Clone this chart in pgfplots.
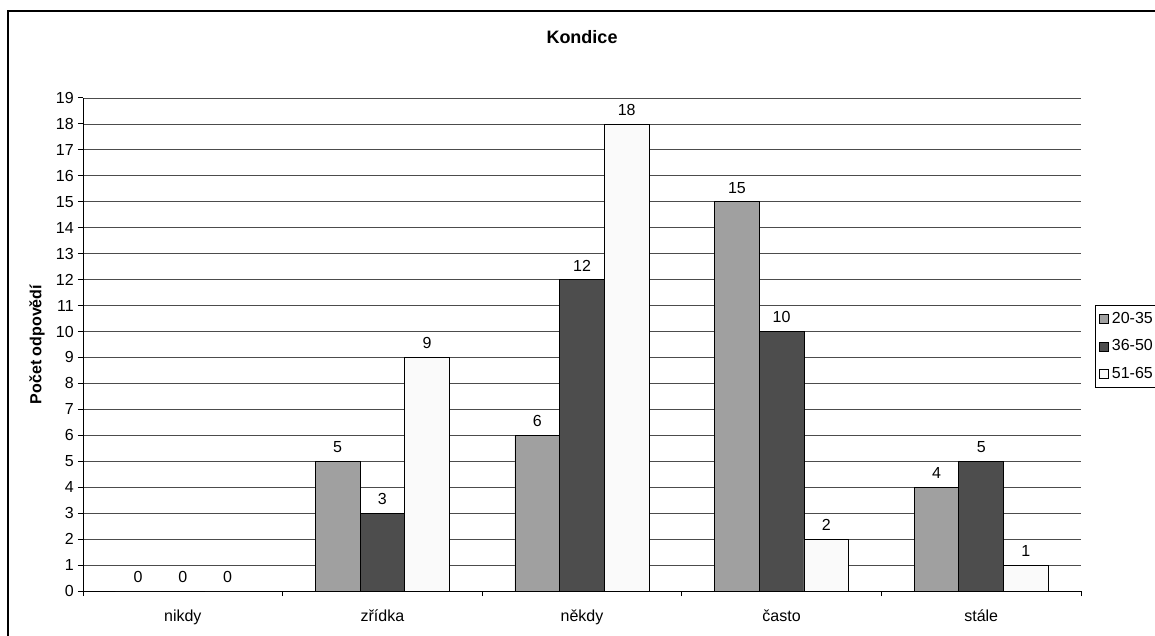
\documentclass[border=0pt]{standalone}
\usepackage{fontspec}
\setmainfont{Liberation Sans}
\usepackage{pgfplots}
\pgfplotsset{compat=1.18}
\definecolor{cA}{HTML}{A0A0A0}
\definecolor{cB}{HTML}{4D4D4D}
\definecolor{cC}{HTML}{FAFAFA}
\begin{document}
\fontsize{12}{14}\selectfont
\begin{tikzpicture}
\useasboundingbox (0pt,0pt) rectangle (866.25pt,476.25pt);
\draw[line width=1pt] (6pt,-10pt) rectangle (880pt,468pt);
\begin{axis}[
  at={(62.25pt,33pt)}, anchor=south west,
  scale only axis, width=748.5pt, height=369.75pt,
  xmin=-0.5, xmax=4.5, ymin=0, ymax=19,
  ybar=0pt, bar width=0.224,
  /pgf/number format/assume math mode=true,
  axis x line*=bottom, axis y line*=left,
  axis line style={-, black, line width=0.75pt},
  tick align=outside,
  xtick={0,1,2,3,4},
  xticklabels={nikdy,zřídka,někdy,často,stále},
  major x tick style={draw=none},
  minor xtick={-0.5,0.5,1.5,2.5,3.5,4.5},
  minor x tick style={black, line width=0.75pt},
  minor tick length=3.75pt,
  major tick length=3.75pt,
  ytick={0,1,...,19},
  y tick style={black, line width=0.75pt},
  ymajorgrids,
  grid style={black!70, line width=0.6pt},
  tick label style={font=\fontsize{12}{14}\selectfont},
  xticklabel style={yshift=-6pt},
  yticklabel style={xshift=1pt},
  ylabel={Počet odpovědí},
  ylabel style={font=\fontsize{12}{14}\selectfont\bfseries, at={(axis description cs:-0.046,0.5)}, anchor=center},
  title={Kondice},
  title style={font=\fontsize{13.5}{16}\selectfont\bfseries, at={(axis description cs:0.5,1.1075)}, anchor=center},
  nodes near coords,
  nodes near coords style={font=\fontsize{12}{14}\selectfont, anchor=south, yshift=2pt},
  every axis plot post/.append style={legend image code/.code={\draw[#1] (0pt,-3.4pt) rectangle (6.8pt,3.4pt);}},
  legend style={at={(axis description cs:1.014,0.580)}, anchor=north west, draw=black, line width=0.6pt,
    font=\fontsize{12}{14}\selectfont, row sep=6.5pt, inner sep=3pt},
  legend cell align=left,
]
\addplot[fill=cA, draw=black, line width=0.6pt] coordinates {(0,0) (1,5) (2,6) (3,15) (4,4)};
\addplot[fill=cB, draw=black, line width=0.6pt] coordinates {(0,0) (1,3) (2,12) (3,10) (4,5)};
\addplot[fill=cC, draw=black, line width=0.6pt] coordinates {(0,0) (1,9) (2,18) (3,2) (4,1)};
\legend{20-35,36-50,51-65}
\end{axis}
\end{tikzpicture}
\end{document}
